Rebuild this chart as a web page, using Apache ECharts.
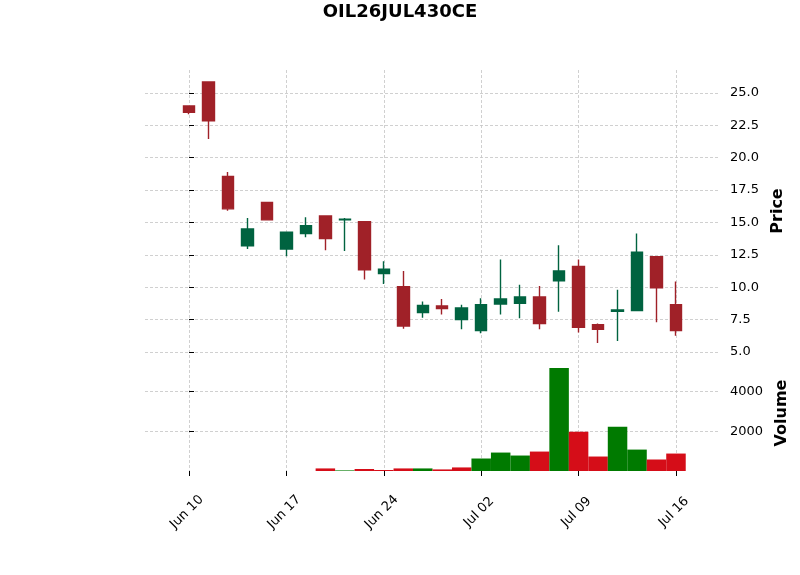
<!DOCTYPE html>
<html>
<head>
<meta charset="utf-8">
<script src="https://cdn.jsdelivr.net/npm/echarts@6/dist/echarts.min.js"></script>
<style>
html, body { margin: 0; padding: 0; background: #fff; }
#chart { width: 800px; height: 575px; }
</style>
</head>
<body>
<div id="chart"></div>
<script>
// trading days (one candle each)
var dates = ['Jun 10', 'Jun 11', 'Jun 12', 'Jun 13', 'Jun 14',
             'Jun 17', 'Jun 18', 'Jun 19', 'Jun 20', 'Jun 21',
             'Jun 24', 'Jun 25', 'Jun 26', 'Jun 27', 'Jun 28',
             'Jul 02', 'Jul 03', 'Jul 04', 'Jul 05', 'Jul 08',
             'Jul 09', 'Jul 10', 'Jul 11', 'Jul 12', 'Jul 15',
             'Jul 16'];
var opens  = [24.0, 25.85, 18.55, 13.2, 16.55, 12.95, 14.15, 15.5, 15.2, 15.05, 11.05, 10.05, 8.05,
              8.55, 7.5, 6.65, 8.7, 8.75, 9.25, 10.5, 11.6, 7.1, 8.15, 8.2, 12.35, 8.65];
var closes = [23.5, 22.85, 16.05, 14.5, 15.2, 14.25, 14.75, 13.75, 15.25, 11.35, 11.4, 7.0, 8.6,
              8.35, 8.4, 8.65, 9.1, 9.25, 7.2, 11.25, 6.9, 6.75, 8.25, 12.7, 9.95, 6.65];
var lows   = [23.35, 21.45, 15.9, 12.95, 15.2, 12.4, 13.85, 12.85, 12.8, 10.6, 10.25, 6.8, 7.65,
              7.9, 6.75, 6.45, 7.9, 7.6, 6.75, 8.1, 6.5, 5.7, 5.85, 8.2, 7.3, 6.25];
var highs  = [24.0, 25.85, 18.9, 15.35, 16.55, 14.25, 15.4, 15.5, 15.35, 15.05, 12.0, 11.25, 8.9,
              9.1, 8.65, 9.15, 12.15, 10.2, 10.1, 13.25, 12.15, 7.2, 9.8, 14.15, 12.35, 10.45];
var volumes = [0, 0, 0, 0, 0, 0, 0, 130, 30, 100, 50, 130, 130,
               80, 180, 630, 930, 780, 980, 5200, 1980, 730, 2230, 1080, 580, 880];
// 1 = up volume bar, -1 = down volume bar
var volDir = [-1, -1, -1, 1, -1, 1, 1, -1, 1, -1, -1, -1, 1,
              -1, -1, 1, 1, 1, -1, 1, -1, -1, 1, 1, -1, -1];
var xTickIdx = [0, 5, 10, 15, 20, 25];
var priceTicks = [5.0, 7.5, 10.0, 12.5, 15.0, 17.5, 20.0, 22.5, 25.0];
var volTicks = [2000, 4000];

var upColor = '#006340', downColor = '#a02128';
var volUp = '#007a00', volDown = '#d50d18';
var gridColor = '#c4c4c4';
var font = 'DejaVu Sans';

var candleData = dates.map(function (d, i) {
  return [i, opens[i], closes[i], lows[i], highs[i]];
});
var volData = dates.map(function (d, i) {
  return { value: [i, volumes[i]], itemStyle: { color: volDir[i] > 0 ? volUp : volDown } };
});

var xMin = -2.26, xMax = 27.26;
var splitStyle = { show: true, lineStyle: { color: gridColor, type: [3, 2], width: 0.8 } };

var myChart = echarts.init(document.getElementById('chart'));
var option = {
  animation: false,
  backgroundColor: '#fff',
  title: {
    text: 'OIL26JUL430CE',
    left: 'center',
    top: -2,
    textStyle: { fontFamily: font, fontSize: 18, fontWeight: 'bold', color: '#000' }
  },
  grid: [
    { left: 145, right: 80, top: 70, height: 282 },
    { left: 145, right: 80, top: 355, height: 116 }
  ],
  xAxis: [
    {
      type: 'value', gridIndex: 0, min: xMin, max: xMax,
      axisLine: { show: false },
      axisTick: { show: false, customValues: xTickIdx },
      axisLabel: { show: false, customValues: xTickIdx },
      splitLine: splitStyle
    },
    {
      type: 'value', gridIndex: 1, min: xMin, max: xMax,
      axisLine: { show: false },
      axisTick: { show: true, length: 5, customValues: xTickIdx, lineStyle: { color: '#000' } },
      axisLabel: {
        customValues: xTickIdx,
        rotate: 45,
        align: 'center',
        verticalAlign: 'middle',
        margin: 39,
        padding: [0, 6, 0, 0],
        fontFamily: font, fontSize: 13, color: '#000',
        formatter: function (v) { return dates[Math.round(v)]; }
      },
      splitLine: splitStyle
    }
  ],
  yAxis: [
    {
      type: 'value', gridIndex: 0, position: 'right',
      min: 5, max: 26.77,
      name: 'Price', nameLocation: 'middle', nameRotate: 90, nameGap: 49,
      nameTextStyle: { fontFamily: font, fontSize: 16, fontWeight: 'bold', color: '#000' },
      axisLine: { show: false },
      axisTick: { show: true, length: 5, customValues: priceTicks, lineStyle: { color: '#000' } },
      axisLabel: {
        customValues: priceTicks, margin: 10,
        fontFamily: font, fontSize: 13, color: '#000',
        formatter: function (v) { return v.toFixed(1); }
      },
      splitLine: splitStyle
    },
    {
      type: 'value', gridIndex: 1, position: 'right',
      min: 0, max: 5850,
      name: 'Volume', nameLocation: 'middle', nameRotate: 90, nameGap: 50,
      nameTextStyle: { fontFamily: font, fontSize: 16, fontWeight: 'bold', color: '#000' },
      axisLine: { show: false },
      axisTick: { show: true, length: 5, customValues: volTicks, lineStyle: { color: '#000' } },
      axisLabel: {
        customValues: volTicks, margin: 10,
        fontFamily: font, fontSize: 13, color: '#000',
        formatter: function (v) { return String(v); }
      },
      splitLine: splitStyle
    }
  ],
  series: [
    {
      type: 'candlestick',
      xAxisIndex: 0, yAxisIndex: 0,
      barWidth: 12,
      encode: { x: 0, y: [1, 2, 3, 4] },
      itemStyle: {
        color: upColor, color0: downColor,
        borderColor: upColor, borderColor0: downColor,
        borderWidth: 1.4
      },
      data: candleData
    },
    {
      type: 'bar',
      xAxisIndex: 1, yAxisIndex: 1,
      barWidth: 19.5,
      data: volData
    }
  ]
};
myChart.setOption(option);
</script>
</body>
</html>
